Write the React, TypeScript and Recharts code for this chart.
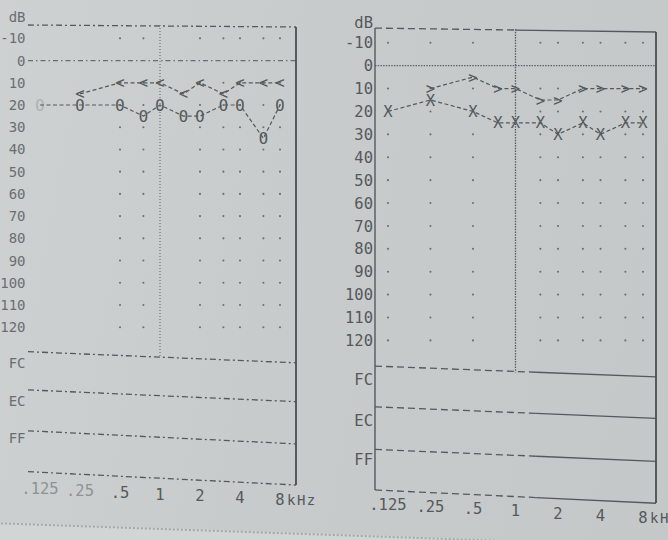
import React from 'react';
import { ComposedChart, Scatter, XAxis, YAxis, ReferenceLine } from 'recharts';

// test frequencies (Hz) and thresholds (dB HL)
const airFreqs = [125, 250, 500, 750, 1000, 1500, 2000, 3000, 4000, 6000, 8000];
const boneFreqs = [250, 500, 750, 1000, 1500, 2000, 3000, 4000, 6000, 8000];

const rightAir = [20, 20, 20, 25, 20, 25, 25, 20, 20, 35, 20]; // O
const rightBone = [15, 10, 10, 10, 15, 10, 15, 10, 10, 10]; // <
const leftAir = [20, 15, 20, 25, 25, 25, 30, 25, 30, 25, 25]; // X
const leftBone = [10, 5, 10, 10, 15, 15, 10, 10, 10, 10]; // >

const freqTicks = [125, 250, 500, 1000, 2000, 4000, 8000];
const freqLabels = ['.125', '.25', '.5', '1', '2', '4', '8'];
const dbTicks = [-10, 0, 10, 20, 30, 40, 50, 60, 70, 80, 90, 100, 110, 120];
const rowLabels = ['FC', 'EC', 'FF'];
const rowLabelLevelsL = [136, 153, 170];
const rowLabelLevelsR = [137, 155, 172];

const gridFreqsL = [500, 750, 2000, 3000, 4000, 6000, 8000];
const gridFreqsR = [125, 250, 500, 1500, 2000, 3000, 4000, 6000, 8000];
const gridLevels = [-10, 10, 20, 30, 40, 50, 60, 70, 80, 90, 100, 110, 120];

// frame lines: level at left end, level at right end (photo is slightly skewed)
const rowLinesL = [[-16, -15.1], [131, 136], [148.2, 153.5], [166.6, 172.5], [185, 191]];
const rowLinesR = [[-16.4, -14.7], [131.2, 135.9], [149, 154], [167.6, 172.8], [185.3, 191.1]];

const INK = '#55595b';
const FAINT = '#8e9294';
const FONT = '"DejaVu Sans Mono", "Liberation Mono", monospace';

type Pt = { f: number; db: number };
const zip = (fs: number[], dbs: number[]): Pt[] => fs.map((f, i) => ({ f, db: dbs[i] }));
const grid = (fs: number[]): Pt[] => gridLevels.flatMap((db) => fs.map((f) => ({ f, db })));

// printed symbols; the far-left column of the right-ear sheet is faded in the photo
const glyph = (ch: string, fadeBelow: number) => (props: any) => (
  <text
    x={props.cx}
    y={props.cy}
    dy="0.36em"
    textAnchor="middle"
    fontFamily={FONT}
    fontSize={15.5}
    fill={INK}
    opacity={props.payload && props.payload.f < fadeBelow ? 0.25 : 1}
  >
    {ch}
  </text>
);
const gridDot = (props: any) => <circle cx={props.cx} cy={props.cy} r={1.05} fill="#6c7072" />;

interface PanelCfg {
  left: number;
  width: number;
  plotLeft: number;
  plotRight: number;
  plotTop: number;
  plotBottom: number;
  xDomain: [number, number];
  yDomain: [number, number];
  rowLines: number[][];
  rowLabelLevels: number[];
  gridFreqs: number[];
  air: Pt[];
  bone: Pt[];
  airGlyph: string;
  boneGlyph: string;
  fadeBelow: number;
  labelBase: number;
  labelSlope: number;
  labelX0: number;
  fadedTicks: number;
  yLabelEnd: number;
  yLabelSize: number;
  yLabelFill: string;
  vLineTo: number;
  right: boolean;
}

const Panel = ({ c }: { c: PanelCfg }) => {
  const height = 540;
  const [fMin, fMax] = c.xDomain;
  const yTicks = [...dbTicks, ...c.rowLabelLevels];
  const yLabels = [...dbTicks.map(String), ...rowLabels];
  const frac = (f: number) => Math.log(f / fMin) / Math.log(fMax / fMin);

  const YTick = (p: any) => {
    const i = yTicks.indexOf(p.payload.value);
    return (
      <text x={c.yLabelEnd} y={p.y} dy="0.36em" textAnchor="end" fontFamily={FONT} fontSize={c.yLabelSize} fill={c.yLabelFill}>
        {yLabels[i]}
      </text>
    );
  };

  const XTick = (p: any) => {
    const i = freqTicks.indexOf(p.payload.value);
    const by = c.plotBottom + c.labelBase + c.labelSlope * (p.x - c.labelX0);
    const fill = i < c.fadedTicks ? FAINT : INK;
    if (p.payload.value === 8000) {
      return (
        <g>
          <text x={p.x} y={by} textAnchor="middle" fontFamily={FONT} fontSize={15.5} fill={fill}>8</text>
          <text x={p.x + 7} y={by} textAnchor="start" fontFamily={FONT} fontSize={14} letterSpacing={1.5} fill={fill}>kHz</text>
        </g>
      );
    }
    return (
      <text x={p.x} y={by} textAnchor="middle" fontFamily={FONT} fontSize={15.5} fill={fill}>
        {freqLabels[i]}
      </text>
    );
  };

  const dbLabel = () => (
    <text x={c.yLabelEnd} y={c.plotTop - (c.right ? 1 : 3)} textAnchor="end" fontFamily={FONT} fontSize={c.yLabelSize} fill={c.yLabelFill}>
      dB
    </text>
  );

  // split a skewed frame line into dashed/solid parts
  const frameLines: any[] = [];
  c.rowLines.forEach(([a, b], k) => {
    const dashed = c.right ? '7 4' : '6 3 2 3';
    const split = c.right ? (k === 0 ? 1000 : 1400) : null;
    if (split) {
      const m = a + (b - a) * frac(split);
      frameLines.push({ seg: [{ x: fMin, y: a }, { x: split, y: m }], dash: dashed, key: `d${k}` });
      frameLines.push({ seg: [{ x: split, y: m }, { x: fMax, y: b }], dash: undefined, key: `s${k}` });
    } else {
      frameLines.push({ seg: [{ x: fMin, y: a }, { x: fMax, y: b }], dash: dashed, key: `d${k}` });
    }
  });

  return (
    <div style={{ position: 'absolute', left: c.left, top: 0 }}>
      <ComposedChart
        width={c.width}
        height={height}
        margin={{ top: c.plotTop, right: c.width - c.plotRight, bottom: 0, left: 0 }}
      >
        <XAxis
          dataKey="f"
          type="number"
          scale="log"
          domain={c.xDomain}
          allowDataOverflow
          ticks={freqTicks}
          interval={0}
          axisLine={false}
          tickLine={false}
          tickSize={0}
          tickMargin={0}
          height={height - c.plotBottom}
          tick={XTick}
        />
        <YAxis
          dataKey="db"
          type="number"
          reversed
          domain={c.yDomain}
          allowDataOverflow
          ticks={yTicks}
          interval={0}
          axisLine={false}
          tickLine={false}
          tickSize={0}
          width={c.plotLeft}
          tick={YTick}
          label={dbLabel}
        />
        {frameLines.map((l) => (
          <ReferenceLine
            key={l.key}
            segment={l.seg}
            stroke={INK}
            strokeWidth={1.3}
            strokeDasharray={l.dash}
            ifOverflow="visible"
          />
        ))}
        <ReferenceLine
          y={0}
          stroke={c.right ? '#5f6365' : '#6a6e70'}
          strokeWidth={1.2}
          strokeDasharray={c.right ? '1.5 1.2' : '5 3 1.5 3'}
          ifOverflow="visible"
        />
        <ReferenceLine
          segment={[{ x: 1000, y: c.yDomain[0] }, { x: 1000, y: c.vLineTo }]}
          stroke={c.right ? '#5a5e60' : '#7a7e80'}
          strokeWidth={1.3}
          strokeDasharray={c.right ? '1.5 1.2' : '1 2'}
          ifOverflow="visible"
        />
        {c.right && (
          <ReferenceLine
            segment={[{ x: fMin, y: c.rowLines[0][0] }, { x: fMin, y: c.rowLines[4][0] }]}
            stroke={INK}
            strokeWidth={1.4}
            ifOverflow="visible"
          />
        )}
        <ReferenceLine
          segment={[{ x: fMax, y: c.rowLines[0][1] }, { x: fMax, y: c.yDomain[1] }]}
          stroke="#4a4e50"
          strokeWidth={1.8}
          ifOverflow="visible"
        />
        <Scatter data={grid(c.gridFreqs)} shape={gridDot} isAnimationActive={false} />
        <Scatter
          data={c.bone}
          shape={glyph(c.boneGlyph, c.fadeBelow)}
          line={{ stroke: INK, strokeWidth: 1.2, strokeDasharray: '4 2.5' }}
          lineType="joint"
          isAnimationActive={false}
        />
        <Scatter
          data={c.air}
          shape={glyph(c.airGlyph, c.fadeBelow)}
          line={{ stroke: INK, strokeWidth: 1.2, strokeDasharray: '4 2.5' }}
          lineType="joint"
          isAnimationActive={false}
        />
      </ComposedChart>
    </div>
  );
};

const rightEar: PanelCfg = {
  left: 0,
  width: 330,
  plotLeft: 28,
  plotRight: 296,
  plotTop: 25,
  plotBottom: 485,
  xDomain: [101.5, 10556],
  yDomain: [-16, 191],
  rowLines: rowLinesL,
  rowLabelLevels: rowLabelLevelsL,
  gridFreqs: gridFreqsL,
  air: zip(airFreqs, rightAir),
  bone: zip(boneFreqs, rightBone),
  airGlyph: 'O',
  boneGlyph: '<',
  fadeBelow: 200,
  labelBase: 13,
  labelSlope: 0.045,
  labelX0: 123,
  fadedTicks: 2,
  yLabelEnd: 25.5,
  yLabelSize: 14,
  yLabelFill: '#6a6e70',
  vLineTo: 133,
  right: false,
};

const leftEar: PanelCfg = {
  left: 330,
  width: 338,
  plotLeft: 45,
  plotRight: 326,
  plotTop: 29,
  plotBottom: 503,
  xDomain: [101.2, 9884],
  yDomain: [-16, 191],
  rowLines: rowLinesR,
  rowLabelLevels: rowLabelLevelsR,
  gridFreqs: gridFreqsR,
  air: zip(airFreqs, leftAir),
  bone: zip(boneFreqs, leftBone),
  airGlyph: 'X',
  boneGlyph: '>',
  fadeBelow: 0,
  labelBase: 7,
  labelSlope: 0.05,
  labelX0: 58,
  fadedTicks: 0,
  yLabelEnd: 43,
  yLabelSize: 15.5,
  yLabelFill: INK,
  vLineTo: 134,
  right: true,
};

export default function App() {
  return (
    <div
      style={{
        position: 'absolute',
        left: 0,
        top: 0,
        width: 668,
        height: 540,
        overflow: 'hidden',
        background: 'linear-gradient(100deg, #cdd1d1 0%, #c7cbcc 45%, #c4c8c9 100%)',
      }}
    >
      <div
        style={{
          position: 'absolute',
          left: -10,
          top: 522,
          width: 720,
          height: 60,
          background: '#d2d5d5',
          borderTop: '2px dotted #a3a8a9',
          transform: 'rotate(2deg)',
          transformOrigin: 'left top',
        }}
      />
      <Panel c={rightEar} />
      <Panel c={leftEar} />
    </div>
  );
}
